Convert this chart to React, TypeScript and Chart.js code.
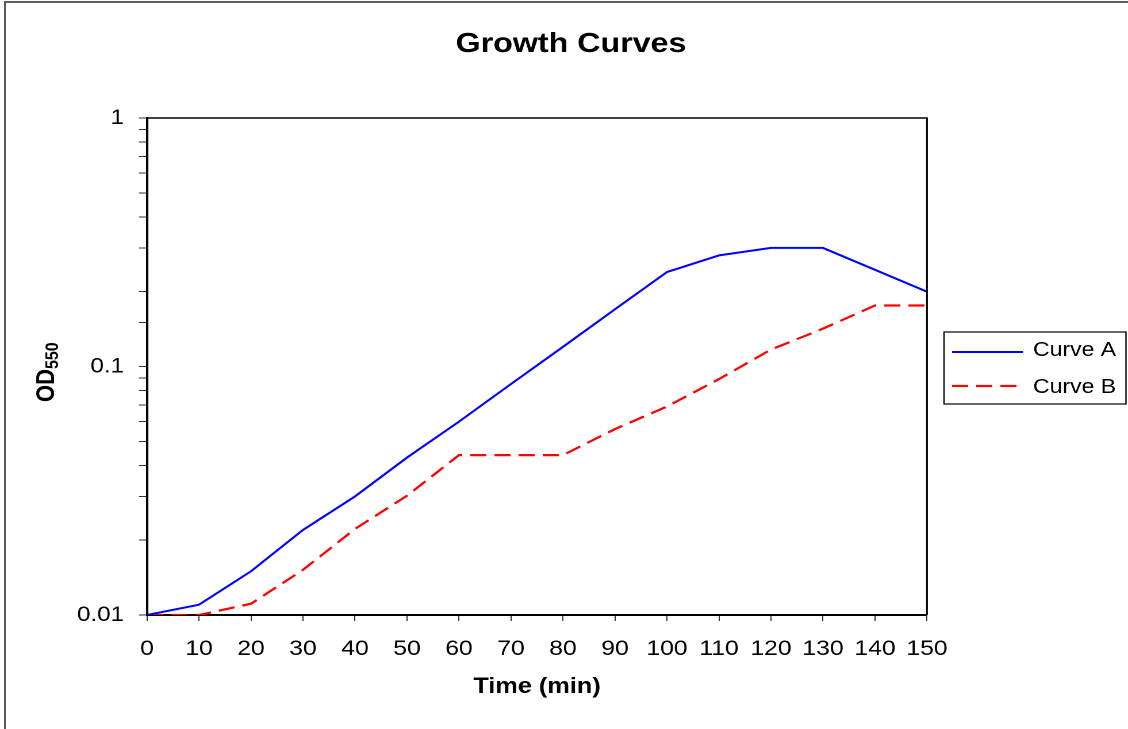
import React, { useEffect, useRef } from "react";
import { Chart, registerables } from "chart.js";

Chart.register(...registerables);

// ---- data ----
const timeMin = [0, 10, 20, 30, 40, 50, 60, 70, 80, 90, 100, 110, 120, 130, 140, 150];
const curveA = [0.01, 0.011, 0.015, 0.022, 0.03, 0.043, 0.06, 0.085, 0.12, 0.17, 0.24, 0.28, 0.3, 0.3, 0.245, 0.2];
const curveB = [0.01, 0.01, 0.0111, 0.0152, 0.0222, 0.0302, 0.044, 0.044, 0.044, 0.056, 0.069, 0.089, 0.117, 0.142, 0.176, 0.176];
const seriesNames = ["Curve A", "Curve B"];
const yTickValues = [0.01, 0.1, 1];
const yTickLabels = ["0.01", "0.1", "1"];
const xTickStep = 10;
const chartTitle = "Growth Curves";
const xAxisTitle = "Time (min)";
const yAxisTitleMain = "OD";
const yAxisTitleSub = "550";

// ---- layout ----
const W = 981;
const H = 729;
const PAGE_W = 1128;
const S = PAGE_W / W; // horizontal stretch of the canvas
const FONT = "'Liberation Sans', Arial, Helvetica, sans-serif";

const decorPlugin = {
  id: "decor",
  afterDraw(chart: any) {
    const ctx = chart.ctx as CanvasRenderingContext2D;
    const a = chart.chartArea;
    ctx.save();
    // plot frame (top & right)
    ctx.strokeStyle = "#000";
    ctx.lineWidth = 1.5;
    ctx.beginPath();
    ctx.moveTo(a.left, a.top);
    ctx.lineTo(a.right, a.top);
    ctx.lineTo(a.right, a.bottom);
    ctx.stroke();

    // title
    ctx.fillStyle = "#000";
    ctx.font = `bold 28px ${FONT}`;
    ctx.textAlign = "center";
    ctx.textBaseline = "alphabetic";
    ctx.fillText(chartTitle, 571 / S, 52);

    // y axis title with subscript
    ctx.save();
    ctx.translate(47.2, 402);
    ctx.rotate(-Math.PI / 2);
    ctx.textAlign = "left";
    ctx.font = `bold 22px ${FONT}`;
    ctx.fillText(yAxisTitleMain, 0, 0);
    const w = ctx.measureText(yAxisTitleMain).width;
    ctx.font = `bold 16px ${FONT}`;
    ctx.fillText(yAxisTitleSub, w, 3.5);
    ctx.restore();

    // legend
    const bx = 944 / S;
    const bw = 1126 / S - bx;
    ctx.strokeStyle = "#000";
    ctx.lineWidth = 1.2;
    ctx.strokeRect(bx, 332, bw, 72);
    const lineYs = [352, 386];
    const textYs = [356, 393];
    chart.data.datasets.forEach((ds: any, i: number) => {
      ctx.save();
      ctx.strokeStyle = ds.borderColor;
      ctx.lineWidth = ds.borderWidth;
      ctx.setLineDash(ds.borderDash || []);
      ctx.beginPath();
      ctx.moveTo(952 / S, lineYs[i]);
      ctx.lineTo(1023 / S, lineYs[i]);
      ctx.stroke();
      ctx.restore();
      ctx.fillStyle = "#000";
      ctx.font = `20px ${FONT}`;
      ctx.textAlign = "left";
      ctx.textBaseline = "alphabetic";
      ctx.fillText(ds.label, 1033 / S, textYs[i]);
    });
    ctx.restore();
  },
};

export default function App() {
  const ref = useRef<HTMLCanvasElement | null>(null);

  useEffect(() => {
    if (!ref.current) return;
    const chart = new Chart(ref.current, {
      type: "line",
      data: {
        datasets: [
          {
            label: seriesNames[0],
            data: timeMin.map((t, i) => ({ x: t, y: curveA[i] })),
            borderColor: "#0000FF",
            borderWidth: 2,
            pointRadius: 0,
            tension: 0,
            fill: false,
          },
          {
            label: seriesNames[1],
            data: timeMin.map((t, i) => ({ x: t, y: curveB[i] })),
            borderColor: "#FF0000",
            borderWidth: 2.2,
            borderDash: [14, 7],
            pointRadius: 0,
            tension: 0,
            fill: false,
          },
        ],
      },
      options: {
        animation: false,
        responsive: false,
        devicePixelRatio: 2,
        layout: { padding: { left: 0, right: W - 927 / S, top: 118, bottom: 0 } },
        plugins: {
          legend: { display: false },
          title: { display: false },
          tooltip: { enabled: false },
        },
        scales: {
          x: {
            type: "linear",
            min: timeMin[0],
            max: timeMin[timeMin.length - 1],
            afterFit: (s: any) => {
              s.height = H - 615;
            },
            ticks: {
              stepSize: xTickStep,
              autoSkip: false,
              maxRotation: 0,
              padding: 15,
              color: "#000",
              font: { family: FONT, size: 21.5 },
            },
            grid: {
              display: true,
              drawOnChartArea: false,
              drawTicks: true,
              tickLength: 6,
              color: "#333",
              lineWidth: 1,
            },
            border: { display: true, color: "#000", width: 2 },
            title: {
              display: true,
              text: xAxisTitle,
              color: "#000",
              font: { family: FONT, size: 22, weight: "bold" },
              padding: { top: 0, bottom: 29 },
            },
          },
          y: {
            type: "logarithmic",
            min: yTickValues[0],
            max: yTickValues[yTickValues.length - 1],
            afterFit: (s: any) => {
              s.width = 147 / S;
            },
            ticks: {
              autoSkip: false,
              padding: 13,
              color: "#000",
              font: { family: FONT, size: 21 },
              callback: (value: any) => {
                const v = Number(value);
                const idx = yTickValues.findIndex((t) => Math.abs(t - v) < t * 1e-6);
                return idx >= 0 ? yTickLabels[idx] : "";
              },
            },
            grid: {
              display: true,
              drawOnChartArea: false,
              drawTicks: true,
              tickLength: 7,
              color: "#333",
              lineWidth: 1,
            },
            border: { display: true, color: "#000", width: 2 },
          },
        },
      } as any,
      plugins: [decorPlugin],
    });
    return () => chart.destroy();
  }, []);

  return (
    <div
      style={{
        position: "absolute",
        left: 0,
        top: 0,
        width: PAGE_W,
        height: H,
        overflow: "hidden",
        background: "#fff",
      }}
    >
      <canvas
        ref={ref}
        width={W}
        height={H}
        style={{ width: `${PAGE_W}px`, height: `${H}px`, display: "block", position: "absolute", left: 0, top: 0 }}
      />
      <div
        style={{
          position: "absolute",
          left: 4,
          top: 1,
          width: 3000,
          height: 3000,
          borderLeft: "2px solid #5a5a5a",
          borderTop: "2px solid #5a5a5a",
          pointerEvents: "none",
        }}
      />
    </div>
  );
}
